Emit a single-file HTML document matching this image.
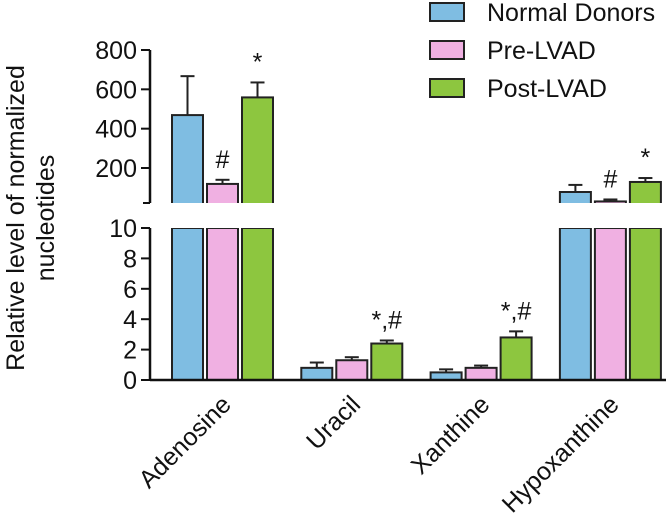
<!DOCTYPE html>
<html><head><meta charset="utf-8"><style>
html,body{margin:0;padding:0;background:#fff;}
svg{display:block;font-family:"Liberation Sans",Arial,sans-serif;}
</style></head><body>
<svg id="chart" width="666" height="520" xmlns="http://www.w3.org/2000/svg"></svg>
<script>
const categories = ["Adenosine","Uracil","Xanthine","Hypoxanthine"];
const seriesNames = ["Normal Donors","Pre-LVAD","Post-LVAD"];
const normalDonors = [469, 0.8, 0.5, 78];
const normalDonorsErr = [198, 0.35, 0.2, 36];
const preLVAD = [119, 1.3, 0.8, 30];
const preLVADErr = [21, 0.2, 0.15, 10];
const postLVAD = [559, 2.4, 2.8, 129];
const postLVADErr = [76, 0.2, 0.4, 20];
const marks = [["","#","*"],["","","*,#"],["","","*,#"],["","#","*"]];
const upperTicks = [200,400,600,800];
const lowerTicks = [0,2,4,6,8,10];

const colors = ["#7fbde2","#f0b0e2","#8dc63f"];
const svg = document.getElementById('chart');
const NS = "http://www.w3.org/2000/svg";
function el(tag, attrs, parent){ const e=document.createElementNS(NS,tag); for(const k in attrs) e.setAttribute(k,attrs[k]); (parent||svg).appendChild(e); return e; }

const FS = 25;
const axX = 150, lowTop = 228, lowBot = 380, upTop = 50, upBot = 203;
function yLow(v){ return lowBot - v*(lowBot-lowTop)/10; }
function yUp(v){ return 168 - (v-200)*(118/600); }
function xBar(c,s){ return 172 + c*129.3 + s*35; }
const bw = 31;

const series = [normalDonors, preLVAD, postLVAD];
const errs = [normalDonorsErr, preLVADErr, postLVADErr];

for(let c=0;c<categories.length;c++){
  for(let s=0;s<3;s++){
    const v = series[s][c], e = errs[s][c];
    const x = xBar(c,s);
    const g = el('g',{});
    
    
    let top;
    if(v > 10){
      el('rect',{x:x,y:lowTop,width:bw,height:lowBot-lowTop,fill:colors[s],stroke:"#222","stroke-width":2},g);
      el('rect',{x:x-2,y:lowTop-4,width:bw+4,height:4,fill:"#fff"},g);
      const yt = yUp(v);
      el('rect',{x:x,y:yt,width:bw,height:upBot-yt+2,fill:colors[s],stroke:"#222","stroke-width":2},g);
      el('rect',{x:x-2,y:upBot,width:bw+4,height:6,fill:"#fff"},g);
      top = yUp(v+e);
      el('line',{x1:x+bw/2,x2:x+bw/2,y1:yt,y2:top,stroke:"#222","stroke-width":2},g);
    } else {
      const yt = yLow(v);
      el('rect',{x:x,y:yt,width:bw,height:lowBot-yt,fill:colors[s],stroke:"#222","stroke-width":2},g);
      top = yLow(v+e);
      el('line',{x1:x+bw/2,x2:x+bw/2,y1:yt,y2:top,stroke:"#222","stroke-width":2},g);
    }
    el('line',{x1:x+bw/2-7,x2:x+bw/2+7,y1:top,y2:top,stroke:"#222","stroke-width":2},g);
    const m = marks[c][s];
    if(m){
      const t = el('text',{x:x+bw/2,y:top-12,"text-anchor":"middle","font-size":FS,fill:"#111"});
      
      
      t.textContent = m;
    }
  }
}

el('line',{x1:axX,x2:axX,y1:upTop,y2:upBot,stroke:"#111","stroke-width":2.5});
el('line',{x1:axX,x2:axX,y1:lowTop,y2:lowBot,stroke:"#111","stroke-width":2.5});
el('line',{x1:axX-7,x2:axX,y1:upBot,y2:upBot,stroke:"#111","stroke-width":2});
el('line',{x1:axX,x2:666,y1:lowBot,y2:lowBot,stroke:"#111","stroke-width":2.5});
upperTicks.forEach(t=>{
  const y=yUp(t);
  el('line',{x1:axX-9,x2:axX,y1:y,y2:y,stroke:"#111","stroke-width":2});
  const tx=el('text',{x:axX-13,y:y+9,"text-anchor":"end","font-size":FS,fill:"#111"});
  
  
  tx.textContent=t;
});
lowerTicks.forEach(t=>{
  const y=yLow(t);
  el('line',{x1:axX-9,x2:axX,y1:y,y2:y,stroke:"#111","stroke-width":2});
  const tx=el('text',{x:axX-13,y:y+9,"text-anchor":"end","font-size":FS,fill:"#111"});
  
  
  tx.textContent=t;
});

categories.forEach((c,i)=>{
  const cx = xBar(i,1)+bw/2 + 10;
  const tx=el('text',{x:cx,y:406,"text-anchor":"end","font-size":FS,fill:"#111",transform:`rotate(-45 ${cx} 406)`});
  
  
  tx.textContent=c;
});

const yt=el('text',{"text-anchor":"middle","font-size":FS,fill:"#111",transform:"translate(24 218) rotate(-90)"});


const t1=el('tspan',{x:0,y:0},yt); t1.textContent="Relative level of normalized";
const t2=el('tspan',{x:0,y:30},yt); t2.textContent="nucleotides";

seriesNames.forEach((n,i)=>{
  const g=el('g',{});
  
  
  el('rect',{x:430,y:3+i*38,width:34,height:18,fill:colors[i],stroke:"#222","stroke-width":2},g);
  const t=el('text',{x:487,y:21+i*38,"font-size":FS,fill:"#111"},g);
  t.textContent=n;
});
</script>
</body></html>
